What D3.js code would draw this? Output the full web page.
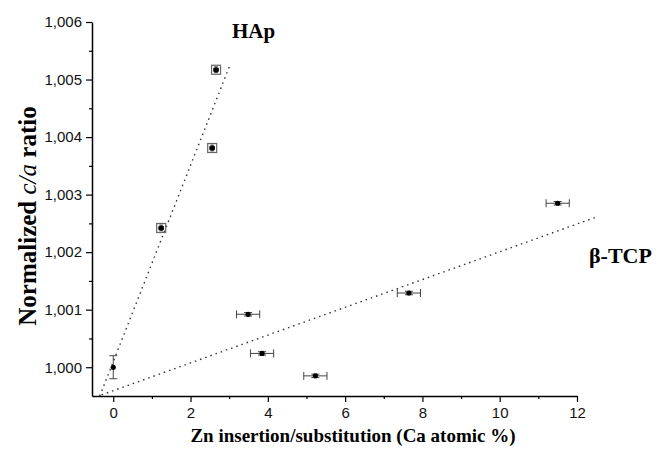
<!DOCTYPE html>
<html>
<head>
<meta charset="utf-8">
<script src="https://cdn.jsdelivr.net/npm/d3@7"></script>
<style>
  body { margin: 0; background: #fff; }
  .title { font-family: "Liberation Serif", "Times New Roman", serif; font-weight: bold; fill: #000; }
</style>
</head>
<body>
<svg id="chart" width="658" height="450"></svg>
<script>
// HAp points (square markers)
const hapX = [1.24, 2.56, 2.66];
const hapY = [1.00242, 1.00381, 1.00517];
const hapXErr = [0.06, 0.06, 0.06];
const hapYErr = [0.00005, 0.00005, 0.00005];

// beta-TCP points
const tcpX = [3.49, 3.85, 5.23, 7.65, 11.5];
const tcpY = [1.00092, 1.00024, 0.99985, 1.00129, 1.00285];
const tcpXErr = [0.3, 0.3, 0.3, 0.3, 0.3];
const tcpYErr = [0.00003, 0.00003, 0.00003, 0.00003, 0.00003];

// reference point (no Zn)
const refX = [0];
const refY = [1.0];
const refYErr = [0.0002];

// dotted fit lines, [x, y] end points
const hapFit = [[-0.35, 0.9995], [3.02, 1.00525]];
const tcpFit = [[-0.3, 0.99952], [12.5, 1.00261]];

const xTicks = [0, 2, 4, 6, 8, 10, 12];
const yTicks = [1.000, 1.001, 1.002, 1.003, 1.004, 1.005, 1.006];

const svg = d3.select('#chart');

let xScale = d3.scaleLinear().domain([-0.55, 12]).range([92, 577]);
let yScale = d3.scaleLinear().domain([0.9995, 1.006]).range([396, 22]);

const comma = d3.formatLocale({decimal: ',', thousands: '.', grouping: [3], currency: ['', '']});
const yFmt = comma.format('.3f');

// minor ticks
const xMinor = d3.range(1, 12, 2);
const yMinor = d3.range(0, 6).map(i => 1.0005 + i * 0.001);

svg.append('g')
    .attr('transform', 'translate(0,396)')
    .call(d3.axisBottom(xScale).tickValues(xMinor).tickSize(3).tickFormat('').tickSizeOuter(0))
    .call(g => g.select('.domain').remove());
svg.append('g')
    .attr('transform', 'translate(92,0)')
    .call(d3.axisLeft(yScale).tickValues(yMinor).tickSize(3).tickFormat('').tickSizeOuter(0))
    .call(g => g.select('.domain').remove());

const xAxisGroup = svg.append('g')
    .attr('transform', 'translate(0,396)')
    .call(d3.axisBottom(xScale).tickValues(xTicks).tickSize(6).tickPadding(5).tickSizeOuter(0));
xAxisGroup.select('.domain').attr('stroke-width', 1.5);

const yAxisGroup = svg.append('g')
    .attr('transform', 'translate(92,0)')
    .call(d3.axisLeft(yScale).tickValues(yTicks).tickSize(6).tickPadding(4).tickFormat(yFmt).tickSizeOuter(0));
yAxisGroup.select('.domain').attr('stroke-width', 1.5);

[xAxisGroup, yAxisGroup].forEach(g => {
    g.attr('font-size', 15).attr('font-family', '"Liberation Sans", Arial, sans-serif');
    g.selectAll('.tick text').style('font-size', '15px').attr('fill', '#111');
});
svg.selectAll('.tick line').attr('stroke-width', 1.2);

// fit lines
let lineGenerator = d3.line()
    .x(d => xScale(d[0]))
    .y(d => yScale(d[1]));

[hapFit, tcpFit].forEach(f => {
    svg.append('path')
        .attr('d', lineGenerator(f))
        .attr('fill', 'none')
        .attr('stroke', '#333')
        .attr('stroke-width', 1.4)
        .attr('stroke-dasharray', '1.5,4');
});

function errorBars(xs, ys, xe, ye, cap) {
    let g = svg.append('g').attr('stroke', '#444').attr('stroke-width', 1);
    xs.forEach((x, i) => {
        let cx = xScale(x), cy = yScale(ys[i]);
        if (xe && xe[i]) {
            let x0 = xScale(x - xe[i]), x1 = xScale(x + xe[i]);
            g.append('line').attr('x1', x0).attr('x2', x1).attr('y1', cy).attr('y2', cy);
            g.append('line').attr('x1', x0).attr('x2', x0).attr('y1', cy - cap).attr('y2', cy + cap);
            g.append('line').attr('x1', x1).attr('x2', x1).attr('y1', cy - cap).attr('y2', cy + cap);
        }
        if (ye && ye[i]) {
            let y0 = yScale(ys[i] - ye[i]), y1 = yScale(ys[i] + ye[i]);
            g.append('line').attr('x1', cx).attr('x2', cx).attr('y1', y0).attr('y2', y1);
            g.append('line').attr('x1', cx - cap).attr('x2', cx + cap).attr('y1', y0).attr('y2', y0);
            g.append('line').attr('x1', cx - cap).attr('x2', cx + cap).attr('y1', y1).attr('y2', y1);
        }
    });
}

errorBars(refX, refY, null, refYErr, 4);
errorBars(tcpX, tcpY, tcpXErr, tcpYErr, 4);
errorBars(hapX, hapY, hapXErr, hapYErr, 2);

// HAp square boxes
svg.append('g').selectAll('rect')
    .data(hapX)
    .enter().append('rect')
    .attr('x', (d, i) => xScale(d) - 4.5)
    .attr('y', (d, i) => yScale(hapY[i]) - 4.5)
    .attr('width', 9)
    .attr('height', 9)
    .attr('fill', 'none')
    .attr('stroke', '#666')
    .attr('stroke-width', 1.2);

// dots
const allX = refX.concat(tcpX, hapX);
const allY = refY.concat(tcpY, hapY);
svg.append('g').selectAll('circle')
    .data(allX)
    .enter().append('circle')
    .attr('cx', d => xScale(d))
    .attr('cy', (d, i) => yScale(allY[i]))
    .attr('r', 2.6)
    .attr('fill', '#000');

// titles
svg.append('text')
    .attr('class', 'title')
    .attr('x', 353).attr('y', 442)
    .attr('text-anchor', 'middle')
    .attr('font-size', 19)
    .text('Zn insertion/substitution (Ca atomic %)');

let yt = svg.append('text')
    .attr('class', 'title')
    .attr('transform', 'translate(36,216) rotate(-90)')
    .attr('text-anchor', 'middle')
    .attr('font-size', 25);
yt.append('tspan').text('Normalized ');
yt.append('tspan').attr('font-style', 'italic').attr('font-weight', 'normal').text('c/a');
yt.append('tspan').text(' ratio');

svg.append('text')
    .attr('class', 'title')
    .attr('x', 232).attr('y', 38)
    .attr('font-size', 21)
    .text('HAp');

svg.append('text')
    .attr('class', 'title')
    .attr('x', 589).attr('y', 263)
    .attr('font-size', 22)
    .text('β-TCP');
</script>
</body>
</html>
